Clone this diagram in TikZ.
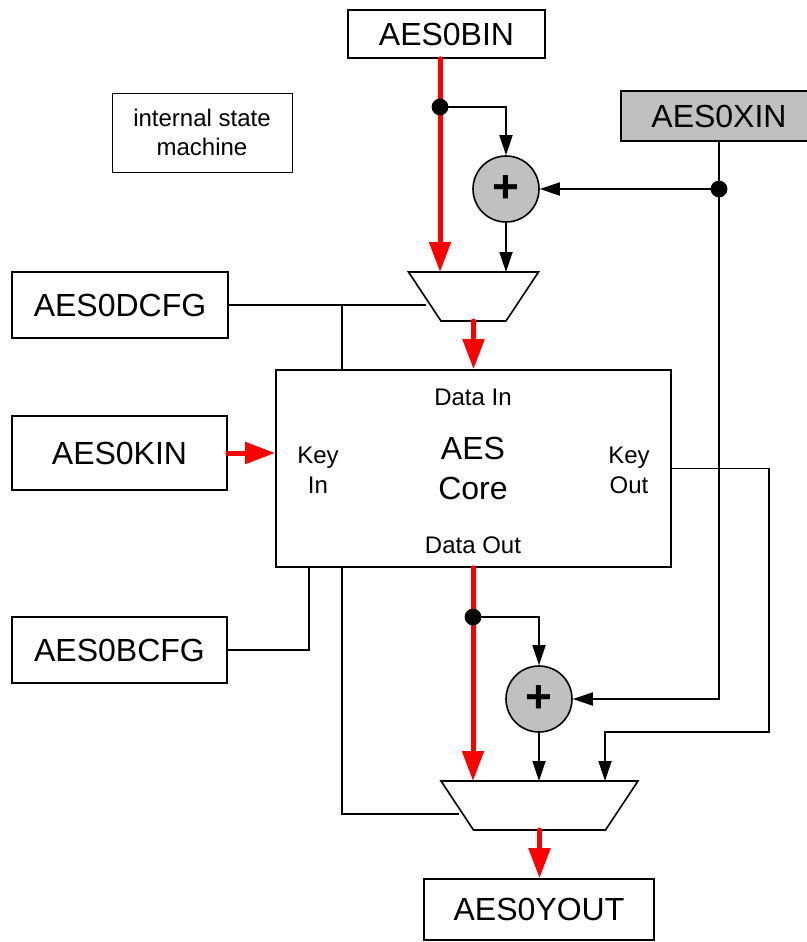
\documentclass[tikz,border=0pt]{standalone}
\usepackage{fontspec}
\setmainfont{Liberation Sans}
\usetikzlibrary{positioning,arrows.meta,shapes.geometric}
\definecolor{datared}{RGB}{255,0,0}
\definecolor{xorgray}{RGB}{192,192,192}
\colorlet{wirecolor}{black}
\begin{document}
\begin{tikzpicture}[x=.5pt,y=-.5pt,
    regbox/.style={draw,line width=.8pt,inner sep=0pt,font=\fontsize{16}{19}\selectfont},
    lbl/.style={font=\fontsize{12}{15}\selectfont,align=center,inner sep=0pt},
    adder/.style={circle,draw,line width=.8pt,fill=xorgray,minimum size=33pt,inner sep=0pt,font=\fontsize{23}{23}\selectfont\bfseries},
    mux/.style={rectangle,minimum height=24.5pt,inner sep=0pt,outer sep=0pt},
    muxedge/.style={draw,line width=.8pt,fill=white,line join=miter},
    wire/.style={line width=.9pt,wirecolor},
    wirearrow/.style={wire,-{Triangle[length=10pt,width=6.5pt]}},
    datapath/.style={line width=2.5pt,datared,line cap=round,-{Triangle[length=15pt,width=10.5pt]}}]
  \useasboundingbox (0,0) rectangle (807,942);
  % registers
  \node[regbox,minimum width=98.5pt,minimum height=24pt] (bin) at (446.5,34) {AES0BIN};
  \node[regbox,fill=xorgray,minimum width=98pt,minimum height=25pt] (xin) at (719,116) {AES0XIN};
  \node[regbox,minimum width=108pt,minimum height=33pt] (dcfg) at (120,305) {AES0DCFG};
  \node[regbox,minimum width=107.5pt,minimum height=37pt] (kin) at (119.5,453) {AES0KIN};
  \node[regbox,minimum width=107.5pt,minimum height=33pt] (bcfg) at (119.5,650) {AES0BCFG};
  \node[regbox,minimum width=115pt,minimum height=30.5pt] (yout) at (539,909.5) {AES0YOUT};
  \node[draw,line width=.5pt,lbl,font=\fontsize{12}{14.5}\selectfont,minimum width=90pt,minimum height=39.5pt] (fsm) at (202,132.5) {internal state\\machine};
  % core
  \node[draw,line width=.8pt,minimum width=197.5pt,minimum height=98.5pt,inner sep=0pt] (core) at (473.5,468.5) {};
  \node[lbl] (din) at (473,397) {Data In};
  \node[lbl] (dout) at (473,545) {Data Out};
  \node[lbl,font=\fontsize{12}{15}\selectfont] (kinlbl) at (318,470) {Key\\In};
  \node[lbl,font=\fontsize{12}{15}\selectfont] (koutlbl) at (629,470) {Key\\Out};
  \node[lbl,font=\fontsize{16}{20}\selectfont] (corelbl) at (473,468) {AES\\Core};
  % xor and mux
  \node[adder] (add1) at (506,189) {+};
  \node[adder] (add2) at (539,699) {+};
  \node[mux,minimum width=65pt] (mux1) at (473.5,296.5) {};
  \node[mux,minimum width=98.5pt] (mux2) at (539.5,805.5) {};
  \draw[muxedge] (mux1.north west) -- (mux1.north east) -- ([xshift=-16.25pt]mux1.south east) -- ([xshift=16.25pt]mux1.south west) -- cycle;
  \draw[muxedge] (mux2.north west) -- (mux2.north east) -- ([xshift=-16.25pt]mux2.south east) -- ([xshift=16.25pt]mux2.south west) -- cycle;
  \coordinate (tapb) at (440,107);
  \coordinate (tapd) at (473,617);
  \coordinate (dsel) at (342,305);
  \coordinate (bsel) at (309,650);
  \coordinate (m1sel) at (426,305);
  \coordinate (m2sel) at (459,814);
  \coordinate (kturn) at (769,732);
  \coordinate (m2key) at (605,781);
  % control wires
  \draw[wire] (dcfg.east) -- (m1sel);
  \draw[wire] (dsel) -- (dsel |- core.north);
  \draw[wire] (bcfg.east) -| (bsel |- core.south);
  \draw[wire] (dsel |- core.south) |- (m2sel);
  % xor wires
  \draw[wirearrow] (tapb) -| (add1.north);
  \draw[wirearrow] (add1.south) -- (add1.south |- mux1.north);
  \draw[wirearrow] (xin.south) |- (add2.east);
  \draw[wirearrow] (xin.south |- add1.east) -- (add1.east);
  \draw[wirearrow] (tapd) -| (add2.north);
  \draw[wirearrow] (add2.south) -- (add2.south |- mux2.north);
  \draw[wirearrow] (core.east) -| (kturn) -| (m2key);
  % data path
  \draw[datapath] (bin.south -| tapb) -- (tapb |- mux1.north);
  \draw[datapath] (mux1.south) -- (mux1.south |- core.north);
  \draw[datapath] (kin.east) -- (kin.east -| core.west);
  \draw[datapath] (core.south -| tapd) -- (tapd |- mux2.north);
  \draw[datapath] (mux2.south) -- (mux2.south |- yout.north);
  \fill (tapb) circle (4.2pt);
  \fill (tapd) circle (4.2pt);
  \fill (xin.south |- add1.east) circle (4.2pt);
\end{tikzpicture}
\end{document}
